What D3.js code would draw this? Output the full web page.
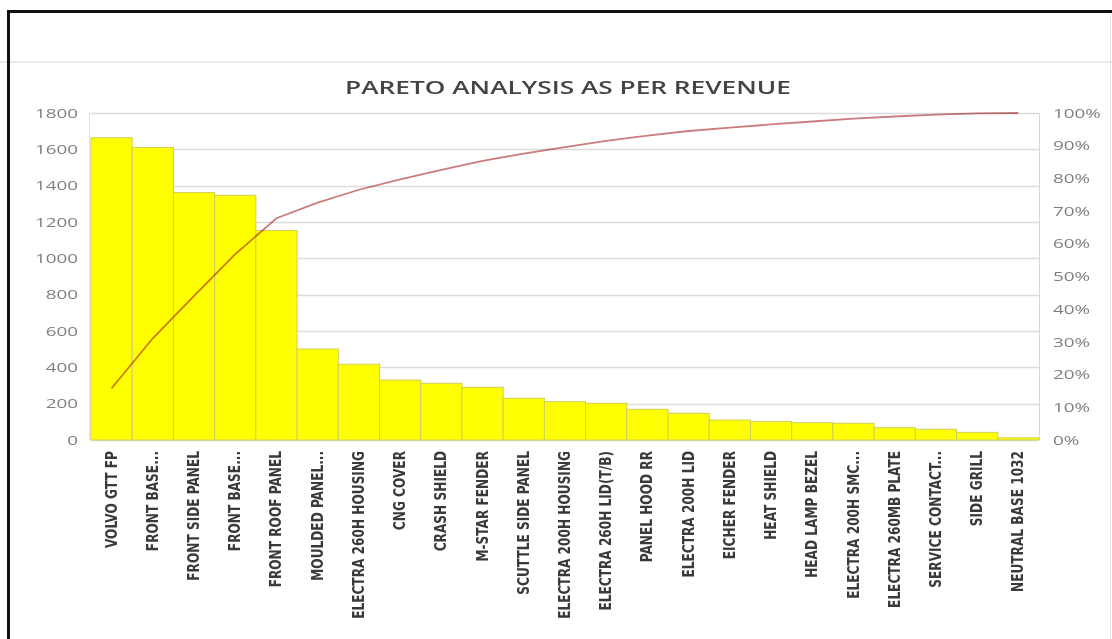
<!DOCTYPE html>
<html>
<head>
<meta charset="utf-8">
<script src="https://cdn.jsdelivr.net/npm/d3@7"></script>
<style>
  body { margin: 0; background: #fff; }
  svg { display: block; }
</style>
</head>
<body>
<svg id="chart" width="1112" height="639"></svg>
<script>
const categories = [
  "VOLVO GTT FP", "FRONT BASE...", "FRONT SIDE PANEL", "FRONT BASE...", "FRONT ROOF PANEL",
  "MOULDED PANEL...", "ELECTRA 260H HOUSING", "CNG COVER", "CRASH SHIELD", "M-STAR FENDER",
  "SCUTTLE SIDE PANEL", "ELECTRA 200H HOUSING", "ELECTRA 260H LID(T/B)", "PANEL HOOD RR",
  "ELECTRA 200H LID", "EICHER FENDER", "HEAT SHIELD", "HEAD LAMP BEZEL", "ELECTRA 200H SMC...",
  "ELECTRA 260MB PLATE", "SERVICE CONTACT...", "SIDE GRILL", "NEUTRAL BASE 1032"
];
const revenue = [1664, 1610, 1362, 1347, 1153, 501, 417, 330, 312, 290, 230, 211, 202, 169, 147, 110, 101, 95, 92, 68, 59, 42, 12];
const leftTicks = [0, 200, 400, 600, 800, 1000, 1200, 1400, 1600, 1800];
const rightTicks = [0, 0.1, 0.2, 0.3, 0.4, 0.5, 0.6, 0.7, 0.8, 0.9, 1];
const title = "PARETO ANALYSIS AS PER REVENUE";

const svg = d3.select('#chart');
const plot = { left: 91, right: 1039, top: 113, bottom: 440 };
const stretch = 1.45; // the source picture is widened horizontally

// frame
svg.append('line').attr('x1', 0).attr('x2', 1112).attr('y1', 62).attr('y2', 62)
  .attr('stroke', '#ececec').attr('stroke-width', 2);
svg.append('line').attr('x1', 1110.5).attr('x2', 1110.5).attr('y1', 12).attr('y2', 639)
  .attr('stroke', '#e4e4e4').attr('stroke-width', 1);
svg.append('line').attr('x1', 7).attr('x2', 1112).attr('y1', 11.5).attr('y2', 11.5)
  .attr('stroke', '#111').attr('stroke-width', 3);
svg.append('line').attr('x1', 8.5).attr('x2', 8.5).attr('y1', 10).attr('y2', 639)
  .attr('stroke', '#111').attr('stroke-width', 3);

const x = d3.scaleBand()
  .domain(d3.range(categories.length))
  .range([plot.left, plot.right])
  .paddingInner(0).paddingOuter(0);

const y = d3.scaleLinear().domain([0, 1800]).range([plot.bottom, plot.top]);
const y2 = d3.scaleLinear().domain([0, 1]).range([plot.bottom, plot.top]);

// gridlines
svg.append('g')
  .selectAll('line')
  .data(leftTicks)
  .enter()
  .append('line')
  .attr('x1', plot.left).attr('x2', plot.right)
  .attr('y1', d => Math.round(y(d)) + 0.5).attr('y2', d => Math.round(y(d)) + 0.5)
  .attr('stroke', '#dcdcdc').attr('stroke-width', 1.5);

// side axis lines
svg.append('line').attr('x1', plot.left - 1.5).attr('x2', plot.left - 1.5)
  .attr('y1', plot.top).attr('y2', plot.bottom).attr('stroke', '#e0e0e0');
svg.append('line').attr('x1', plot.right + 0.5).attr('x2', plot.right + 0.5)
  .attr('y1', plot.top).attr('y2', plot.bottom).attr('stroke', '#d8d8d8');

// bars
svg.append('g')
  .selectAll('rect')
  .data(revenue)
  .enter()
  .append('rect')
  .attr('x', (d, i) => x(i))
  .attr('y', d => y(d))
  .attr('width', x.bandwidth())
  .attr('height', d => y(0) - y(d))
  .attr('fill', '#ffff00')
  .attr('stroke', '#cfcf5a')
  .attr('stroke-width', 1);

// cumulative line
const total = d3.sum(revenue);
const cumulative = d3.cumsum(revenue).map(v => v / total);
const line = d3.line()
  .x((d, i) => x(i) + x.bandwidth() / 2)
  .y(d => y2(d));
svg.append('path')
  .datum(cumulative)
  .attr('d', line)
  .attr('fill', 'none')
  .attr('stroke', '#cc7c7c')
  .attr('stroke-width', 1.8)
  .style('mix-blend-mode', 'multiply');

// left axis
const leftAxis = svg.append('g')
  .attr('transform', `translate(${plot.left - 13},0)`)
  .call(d3.axisLeft(y).tickValues(leftTicks).tickSize(0).tickPadding(0).tickFormat(d3.format('d')));
leftAxis.select('.domain').remove();
leftAxis.selectAll('text')
  .attr('transform', `scale(${stretch},1)`)
  .style('font-family', '"Open Sans", sans-serif')
  .style('font-size', '13px')
  .style('fill', '#7f7f7f');

// right axis
const rightAxis = svg.append('g')
  .attr('transform', `translate(${plot.right + 14},0)`)
  .call(d3.axisRight(y2).tickValues(rightTicks).tickSize(0).tickPadding(0).tickFormat(d3.format('.0%')));
rightAxis.select('.domain').remove();
rightAxis.selectAll('text')
  .attr('transform', `scale(${stretch},1)`)
  .style('font-family', '"Open Sans", sans-serif')
  .style('font-size', '13px')
  .style('fill', '#7f7f7f');

// category labels
svg.append('g')
  .selectAll('text')
  .data(categories)
  .enter()
  .append('text')
  .attr('transform', (d, i) => `translate(${x(i) + x.bandwidth() / 2 + 5},${plot.bottom + 11}) scale(1.22,1) rotate(-90)`)
  .attr('text-anchor', 'end')
  .style('font-family', '"Liberation Sans Narrow", "DejaVu Sans Condensed", sans-serif')
  .style('font-weight', 'bold')
  .style('font-size', '13.5px')
  .style('fill', '#3a3a3a')
  .text(d => d);

// title
svg.append('text')
  .attr('transform', `translate(568,94) scale(1.5,1)`)
  .attr('text-anchor', 'middle')
  .style('font-family', '"Open Sans", sans-serif')
  .style('font-weight', '600')
  .style('font-size', '17.5px')
  .style('fill', '#444')
  .text(title);
</script>
</body>
</html>
